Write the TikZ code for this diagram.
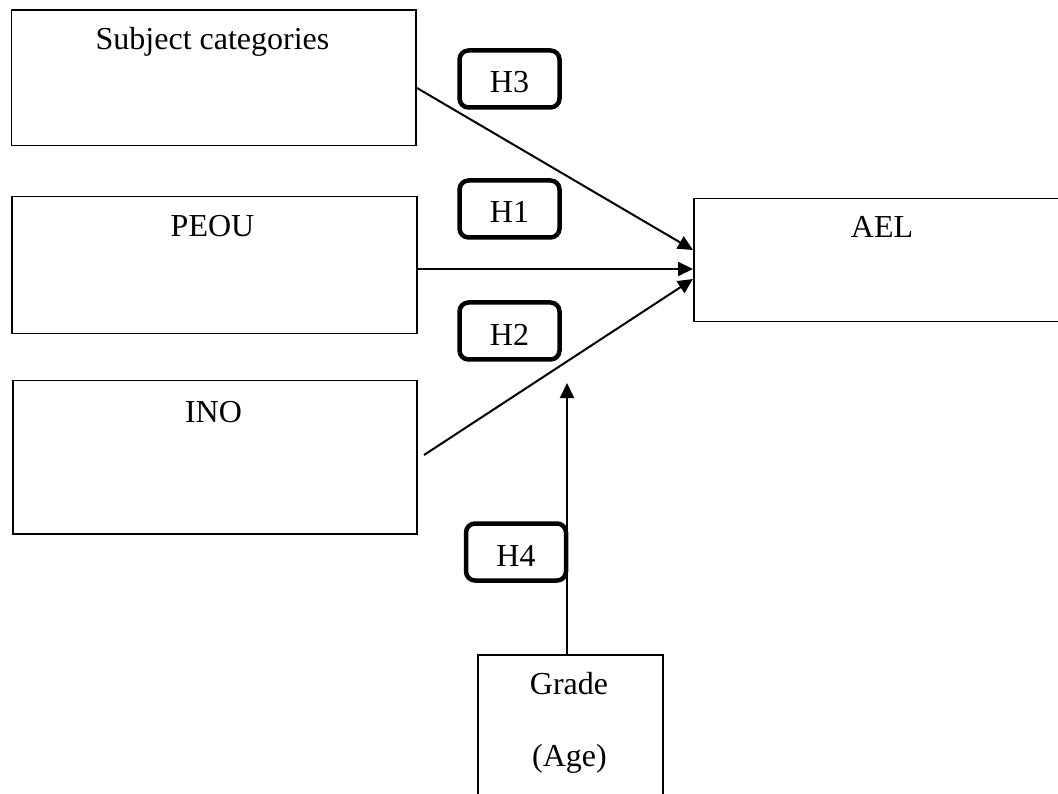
\documentclass[tikz,border=0pt]{standalone}
\usepackage{fontspec}
\setmainfont{Liberation Serif}
\usetikzlibrary{arrows.meta,calc}
\begin{document}
\begin{tikzpicture}[x=1pt,y=-1pt,
  font=\fontsize{32}{38}\selectfont,
  box/.style={draw, line width=1.5pt, rectangle, anchor=north west, inner sep=0pt},
  hbox/.style={draw, line width=4.5pt, rounded corners=9pt, minimum width=100pt,
    minimum height=57pt, text height=28pt, text depth=0pt, anchor=base, inner sep=0pt},
  lbl/.style={anchor=base, inner sep=0pt},
  arr/.style={line width=2pt, -{Triangle[length=15pt,width=14pt]}}]
\useasboundingbox (0,0) rectangle (1058,794);
\clip (0,0) rectangle (1058,794);
% boxes
\node[box, minimum width=404.5pt, minimum height=135.5pt] (subj) at (10.5,9.5) {};
\node[box, minimum width=405pt, minimum height=137pt] (peou) at (11,196) {};
\node[box, minimum width=404pt, minimum height=153pt] (ino) at (12,380) {};
\node[box, minimum width=400pt, minimum height=123pt] (ael) at (693,198) {};
\node[box, minimum width=185pt, minimum height=200pt] (grade) at (477,654) {};
% texts
\node[lbl] (subjt) at (212.5,50) {Subject categories};
\node[lbl] (peout) at (212.5,237) {PEOU};
\node[lbl] (inot) at (213.5,422) {INO};
\node[lbl] (aelt) at (882,238) {AEL};
\node[lbl] (gradet) at (569,694) {Grade};
\node[lbl] (aget) at (569.5,766) {(Age)};
% hypothesis labels
\node[hbox] (h3) at (509.5,93) {H3};
\node[hbox] (h1) at (509.5,223) {H1};
\node[hbox] (h2) at (509.5,345) {H2};
\node[hbox] (h4) at (516,566) {H4};
% connector ends
\coordinate (a3s) at (417,88);
\coordinate (a3e) at (693,250);
\coordinate (a1e) at (693,269);
\coordinate (a2s) at (424,455);
\coordinate (a2e) at (693,279);
\coordinate (a4e) at (567,383);
% connectors
\draw[arr] (a3s) -- (a3e);
\draw[arr] (peou.east |- a1e) -- (a1e);
\draw[arr] (a2s) -- (a2e);
\draw[arr] (grade.north -| a4e) -- (a4e);
\end{tikzpicture}
\end{document}
